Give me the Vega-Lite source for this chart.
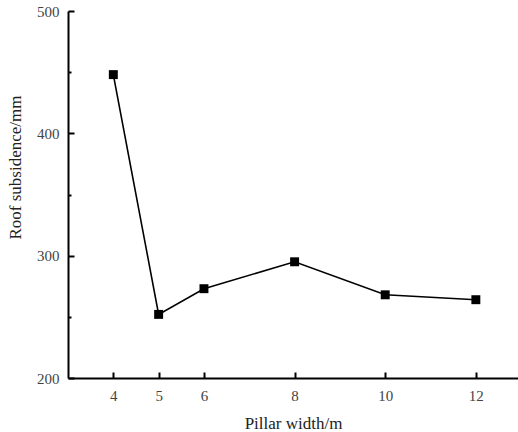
{
  "$schema": "https://vega.github.io/schema/vega-lite/v6.json",
  "autosize": {"type": "none"},
  "padding": {"left": 68, "top": 11, "right": 0, "bottom": 54},
  "width": 450,
  "height": 367,
  "background": "white",
  "config": {
    "view": {"stroke": null},
    "font": "Liberation Serif"
  },
  "data": {
    "values": [
      {"w": 4, "s": 448},
      {"w": 5, "s": 252},
      {"w": 6, "s": 273},
      {"w": 8, "s": 295},
      {"w": 10, "s": 268},
      {"w": 12, "s": 264}
    ]
  },
  "resolve": {"axis": {"x": "independent", "y": "independent"}},
  "layer": [
    {
      "mark": {"type": "line", "color": "black", "strokeWidth": 1.6},
      "encoding": {
        "x": {
          "field": "w", "type": "quantitative",
          "scale": {"domain": [3, 12.93], "nice": false, "zero": false},
          "axis": {
            "orient": "bottom",
            "values": [4, 5, 6, 8, 10, 12],
            "title": "Pillar width/m",
            "grid": false,
            "domainColor": "black", "domainWidth": 2,
            "ticks": false,
            "labelPadding": 10, "labelFontSize": 15, "labelColor": "#444",
            "labelFont": "Liberation Serif",
            "titleFont": "Liberation Serif", "titleFontSize": 17, "titleFontWeight": "normal",
            "titleColor": "#222", "titlePadding": 12
          }
        },
        "y": {
          "field": "s", "type": "quantitative",
          "scale": {"domain": [200, 500], "nice": false, "zero": false},
          "axis": {
            "orient": "left",
            "values": [200, 300, 400, 500],
            "title": "Roof subsidence/mm",
            "grid": false,
            "domainColor": "black", "domainWidth": 2,
            "ticks": false,
            "labelPadding": 9, "labelFontSize": 15, "labelColor": "#444",
            "labelFont": "Liberation Serif",
            "titleFont": "Liberation Serif", "titleFontSize": 17, "titleFontWeight": "normal",
            "titleColor": "#222", "titleY": 156, "titleX": -44
          }
        }
      }
    },
    {
      "mark": {"type": "point", "shape": "square", "filled": true, "color": "black", "opacity": 1, "size": 80},
      "encoding": {
        "x": {
          "field": "w", "type": "quantitative",
          "axis": {
            "orient": "top", "offset": -367,
            "values": [4, 5, 6, 8, 10, 12],
            "title": null, "labels": false, "domain": false, "grid": false,
            "tickColor": "black", "tickWidth": 2, "tickSize": 6
          }
        },
        "y": {
          "field": "s", "type": "quantitative",
          "axis": {
            "orient": "right", "offset": -450,
            "values": [200, 250, 300, 350, 400, 450, 500],
            "title": null, "labels": false, "domain": false, "grid": false,
            "tickColor": "black", "tickWidth": 2,
            "tickSize": {"condition": {"test": "datum.value % 100 === 0", "value": 6}, "value": 3}
          }
        }
      }
    }
  ]
}
